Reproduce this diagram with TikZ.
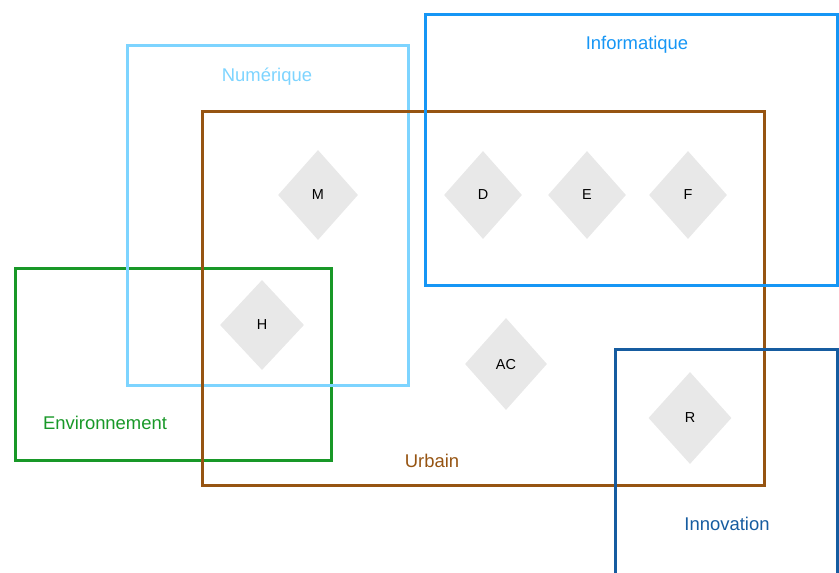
\documentclass[tikz,border=0pt]{standalone}
\usepackage{fontspec}
\setmainfont{Liberation Sans}
\usepackage{xcolor}
\usepackage{tikz}
\usetikzlibrary{positioning,shapes.geometric}

\begin{document}
\begin{tikzpicture}[x=1bp, y=-1bp]
					\definecolor{numblue}{RGB}{125,212,255}
					\definecolor{infoblue}{RGB}{22,150,245}
					\definecolor{urbbrown}{RGB}{150,84,18}
					\definecolor{envgreen}{RGB}{24,152,40}
					\definecolor{innoblue}{RGB}{22,92,160}
					\definecolor{losgray}{RGB}{232,232,232}
					\tikzset{
						zonebox/.style={line width=3bp, fill=none},
						zonelabel/.style={font=\fontsize{18.5}{20}\selectfont, inner sep=0pt, yshift=-2bp},
						losnode/.style={
							shape=diamond,
							fill=losgray,
							draw=none,
							minimum width=80bp,
							minimum height=88bp,
							inner sep=0pt,
							text depth=0pt,
							font=\fontsize{14.5}{16}\selectfont
						}
					}
					\useasboundingbox (0,0) rectangle (839,573);
					
					% zones
					\draw[zonebox, envgreen] (15,268) rectangle (331,460);
					\draw[zonebox, numblue] (127,46) rectangle (408,385);
					\draw[zonebox, urbbrown] (202,112) rectangle (764,485);
					\draw[zonebox, infoblue] (425,15) rectangle (837,285);
					\draw[zonebox, innoblue] (615,349) rectangle (837,580);
					
					\node[zonelabel, text=numblue] (numerique) at (267,75) {Numérique};
					\node[zonelabel, text=infoblue] (informatique) at (637,43) {Informatique};
					\node[zonelabel, text=envgreen] (environnement) at (105,421) {Environnement};
					\node[zonelabel, text=urbbrown] (urbain) at (432,459) {Urbain};
					\node[zonelabel, text=innoblue] (innovation) at (727,522) {Innovation};
					
					% losanges
					\node[losnode, minimum height=90bp] (M) at (318,195) {M};
					\node[losnode, minimum width=78bp] (D) at (483,195) {D};
					\node[losnode, minimum width=78bp] (E) at (587,195) {E};
					\node[losnode, minimum width=78bp] (F) at (688,195) {F};
					\node[losnode, minimum width=84bp, minimum height=90bp] (H) at (262,325) {H};
					\node[losnode, minimum width=82bp, minimum height=92bp] (AC) at (506,364) {AC};
					\node[losnode, minimum width=83bp, minimum height=92bp] (R) at (690,418) {R};
				\end{tikzpicture}
\end{document}
